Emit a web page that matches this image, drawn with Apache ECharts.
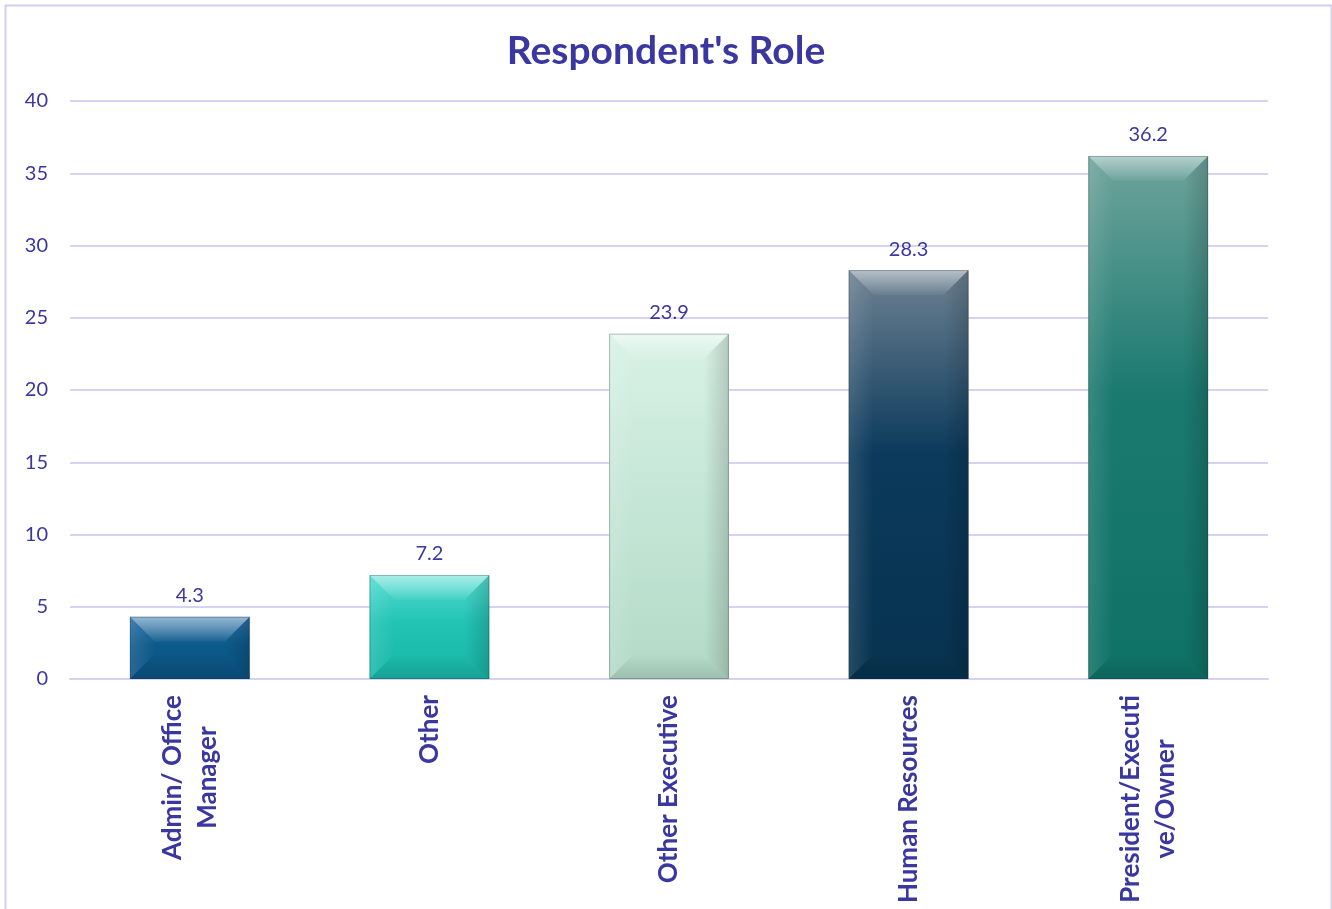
<!DOCTYPE html>
<html>
<head>
<meta charset="utf-8">
<title>Respondent's Role</title>
<script src="https://cdn.jsdelivr.net/npm/echarts@6/dist/echarts.min.js"></script>
<style>
  html, body { margin: 0; padding: 0; background: #ffffff; }
  #chart { width: 1332px; height: 909px; }
</style>
</head>
<body>
<div id="chart"></div>
<script>
// Survey breakdown of respondents by role (percent)
const categories = [
  'Admin/ Office\nManager',
  'Other',
  'Other Executive',
  'Human Resources',
  'President/Executi\nve/Owner'
];
const values = [4.3, 7.2, 23.9, 28.3, 36.2];
const yTicks = { min: 0, max: 40, interval: 5 };

// Fill for each bar: [top colour, middle colour, bottom colour]
const barFills = [
  ['#2a70a6', '#0d5a8a', '#0b5283'],
  ['#56dcd2', '#22c4b4', '#19b6a6'],
  ['#d8f2e5', '#c6e7d7', '#b3dac7'],
  ['#6e8292', '#0b3a5c', '#07324f'],
  ['#6fa49c', '#1b7a70', '#0f7266']
];

const TEXT = '#3b37a0';
const GRID = '#d6d2f2';
const FONT = 'Lato, "Open Sans", sans-serif';
const CAT_SIZE = 26;
const CAT_LINE = 35;

// Centre the second line of a wrapped category label under the first
const measureCtx = document.createElement('canvas').getContext('2d');
measureCtx.font = 'bold ' + CAT_SIZE + 'px ' + FONT;
const rich = {};
categories.forEach(function (c, i) {
  const lines = c.split('\n');
  const widths = lines.map(function (l) { return measureCtx.measureText(l).width; });
  const maxW = Math.max.apply(null, widths);
  lines.forEach(function (l, j) {
    rich['c' + i + '_' + j] = {
      fontFamily: FONT, fontSize: CAT_SIZE, fontWeight: 'bold', color: TEXT,
      lineHeight: CAT_LINE,
      padding: [0, (maxW - widths[j]) / 2, 0, 0]
    };
  });
});

function grad(x0, y0, x1, y1, c0, c1) {
  return new echarts.graphic.LinearGradient(x0, y0, x1, y1, [
    { offset: 0, color: c0 },
    { offset: 1, color: c1 }
  ]);
}

function renderBevelBar(params, api) {
  const idx = api.value(0);
  const v = api.value(1);
  const top = api.coord([idx, v]);
  const base = api.coord([idx, 0]);
  const bw = api.size([1, 0])[0] * 0.5;
  const x0 = top[0] - bw / 2, x1 = top[0] + bw / 2;
  const y0 = top[1], y1 = base[1];
  const h = y1 - y0;
  const b = Math.min(25, h / 2, bw / 2);
  const f = barFills[idx];
  return {
    type: 'group',
    children: [
      {
        type: 'rect',
        shape: { x: x0, y: y0, width: bw, height: h },
        style: {
          fill: new echarts.graphic.LinearGradient(0, 0, 0, 1, [
            { offset: 0, color: f[0] },
            { offset: 0.45, color: f[1] },
            { offset: 1, color: f[2] }
          ])
        }
      },
      {
        // top bevel
        type: 'polygon',
        shape: { points: [[x0, y0], [x1, y0], [x1 - b, y0 + b], [x0 + b, y0 + b]] },
        style: { fill: grad(0, 0, 0, 1, 'rgba(255,255,255,0.5)', 'rgba(255,255,255,0.04)') }
      },
      {
        // left bevel
        type: 'polygon',
        shape: { points: [[x0, y0], [x0 + b, y0 + b], [x0 + b, y1 - b], [x0, y1]] },
        style: { fill: grad(0, 0, 1, 0, 'rgba(255,255,255,0.12)', 'rgba(255,255,255,0)') }
      },
      {
        // right bevel
        type: 'polygon',
        shape: { points: [[x1, y0], [x1, y1], [x1 - b, y1 - b], [x1 - b, y0 + b]] },
        style: { fill: grad(1, 0, 0, 0, 'rgba(0,0,0,0.16)', 'rgba(0,0,0,0)') }
      },
      {
        // bottom bevel
        type: 'polygon',
        shape: { points: [[x0, y1], [x0 + b, y1 - b], [x1 - b, y1 - b], [x1, y1]] },
        style: { fill: grad(0, 1, 0, 0, 'rgba(0,0,0,0.12)', 'rgba(0,0,0,0)') }
      },
      {
        type: 'rect',
        shape: { x: x0 + 0.5, y: y0 + 0.5, width: bw - 1, height: h - 1 },
        style: { fill: 'none', stroke: 'rgba(40,50,60,0.3)', lineWidth: 1 }
      },
      {
        type: 'text',
        style: {
          text: String(v),
          x: top[0],
          y: y0 - 11,
          align: 'center',
          verticalAlign: 'bottom',
          fill: TEXT,
          font: '20px ' + FONT
        }
      }
    ]
  };
}

const chart = echarts.init(document.getElementById('chart'), null, { renderer: 'canvas' });
chart.setOption({
  animation: false,
  backgroundColor: '#ffffff',
  title: {
    text: "Respondent's Role",
    left: 'center',
    top: 27,
    textStyle: { fontFamily: FONT, fontSize: 39, fontWeight: 'bold', color: TEXT }
  },
  graphic: [{
    type: 'rect',
    left: 3, top: 3,
    shape: { width: 1326, height: 920 },
    style: { fill: 'none', stroke: '#d2cef0', lineWidth: 2 },
    silent: true
  }],
  grid: { left: 70, right: 64, top: 101, bottom: 230, containLabel: false },
  xAxis: {
    type: 'category',
    data: categories,
    axisLine: { show: true, lineStyle: { color: GRID, width: 2 } },
    axisTick: { show: false },
    axisLabel: {
      interval: 0,
      rotate: 90,
      margin: 16,
      formatter: function (val, i) {
        return val.split('\n').map(function (l, j) {
          return '{c' + i + '_' + j + '|' + l + '}';
        }).join('\n');
      },
      rich: rich
    }
  },
  yAxis: {
    type: 'value',
    min: yTicks.min,
    max: yTicks.max,
    interval: yTicks.interval,
    axisLine: { show: false },
    axisTick: { show: false },
    splitLine: { lineStyle: { color: GRID, width: 2 } },
    axisLabel: { margin: 22, color: TEXT, fontFamily: FONT, fontSize: 20 }
  },
  series: [{
    type: 'custom',
    renderItem: renderBevelBar,
    encode: { x: 0, y: 1 },
    data: values.map(function (v, i) { return [i, v]; }),
    clip: false
  }]
});
</script>
</body>
</html>
